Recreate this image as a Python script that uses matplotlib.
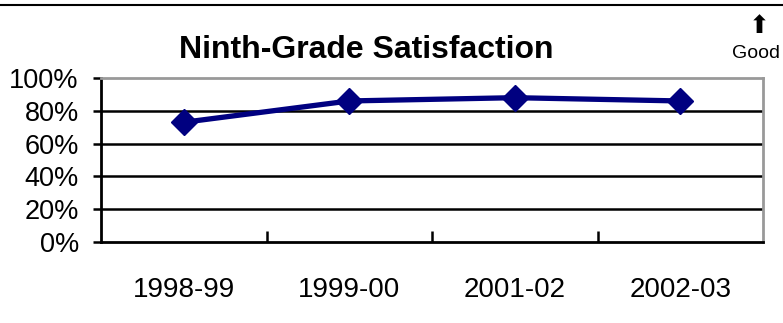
import matplotlib.pyplot as plt
from matplotlib.lines import Line2D
from matplotlib.ticker import FixedLocator, PercentFormatter

years = ["1998-99", "1999-00", "2001-02", "2002-03"]
satisfaction = [73, 86, 88, 86]

plt.rcParams['font.family'] = ['Liberation Sans', 'DejaVu Sans']

fig = plt.figure(figsize=(7.83, 3.23), dpi=100)
ax = fig.add_axes([0.129, 0.2508, 0.8455, 0.5077])

x = list(range(len(years)))
ax.plot(x, satisfaction, color='#000080', linewidth=3.8, marker='D',
        markersize=13, zorder=3, clip_on=False)

ax.set_xlim(-0.5, len(years) - 0.5)
ax.set_ylim(0, 100)

# horizontal gridlines at every 20%
for v in [20, 40, 60, 80]:
    ax.axhline(v, color='black', linewidth=1.8, zorder=1)

ax.set_yticks([0, 20, 40, 60, 80, 100])
ax.yaxis.set_major_formatter(PercentFormatter(decimals=0))
ax.tick_params(axis='y', direction='out', length=6, width=1.8,
               labelsize=19.5, pad=10)

# category labels centred, ticks on the boundaries between them
ax.set_xticks(x)
ax.set_xticklabels(years)
ax.xaxis.set_minor_locator(FixedLocator([0.5, 1.5, 2.5]))
ax.tick_params(axis='x', which='major', length=0, labelsize=20, pad=25)
ax.tick_params(axis='x', which='minor', direction='in', length=8, width=1.8)

for side in ['left', 'bottom']:
    ax.spines[side].set_color('black')
    ax.spines[side].set_linewidth(2)
for side in ['top', 'right']:
    ax.spines[side].set_color('#999999')
    ax.spines[side].set_linewidth(2)

fig.text(0.468, 0.845, "Ninth-Grade Satisfaction", fontsize=23,
         fontweight='bold', ha='center', va='center')

# rule across the top of the figure
fig.add_artist(Line2D([0, 1], [0.984, 0.984], color='black', linewidth=1.5,
                      transform=fig.transFigure))

fig.text(0.970, 0.918, "\u2b06", fontsize=18, ha='center', va='center',
         family=['DejaVu Sans'])
fig.text(0.935, 0.835, "Good", fontsize=14, ha='left', va='center')

fig.savefig("out.png", dpi=100)
